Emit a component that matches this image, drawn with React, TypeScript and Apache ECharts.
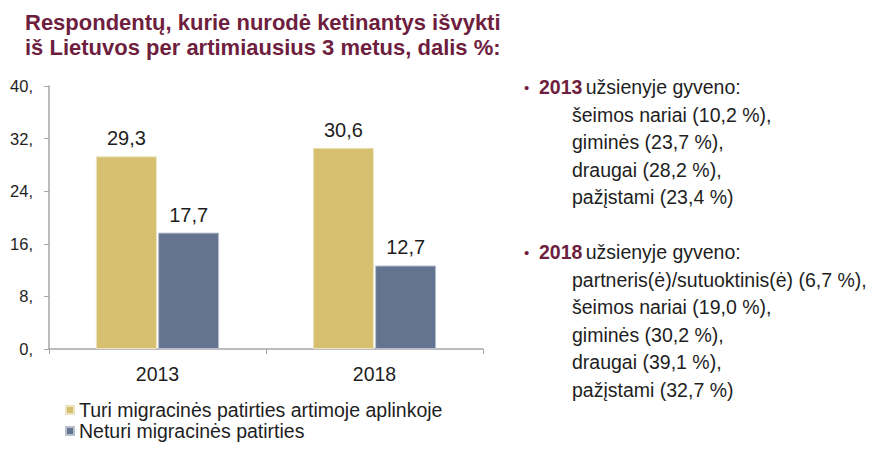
import React, { useEffect, useRef } from "react";
import * as echarts from "echarts";

const categories = ["2013", "2018"];
const seriesNames = ["Turi migracinės patirties artimoje aplinkoje", "Neturi migracinės patirties"];
const withExperience = [29.3, 30.6];
const withoutExperience = [17.7, 12.7];
const titleLines = ["Respondentų, kurie nurodė ketinantys išvykti", "iš Lietuvos per artimiausius 3 metus, dalis %:"];
const notes2013 = ["šeimos nariai (10,2 %),", "giminės (23,7 %),", "draugai (28,2 %),", "pažįstami (23,4 %)"];
const notes2018 = ["partneris(ė)/sutuoktinis(ė) (6,7 %),", "šeimos nariai (19,0 %),", "giminės (30,2 %),", "draugai (39,1 %),", "pažįstami (32,7 %)"];

const FONT = "'Liberation Sans', Arial, sans-serif";
const MAROON = "#6E1E3E";
const TEXT = "#1e1e1e";

export default function App() {
  const ref = useRef<HTMLDivElement>(null);
  useEffect(() => {
    if (!ref.current) return;
    const chart = echarts.init(ref.current, null, { renderer: "svg" });
    const graphics: any[] = [];
    titleLines.forEach((t, i) => {
      graphics.push({
        type: "text", left: 25, top: 11 + i * 25,
        style: { text: t, font: `bold 22px ${FONT}`, fill: MAROON },
      });
    });
    const FS = 19.5;
    const block = (year: string, lines: string[], y0: number) => {
      graphics.push({
        type: "text", left: 524, top: y0 - 8,
        style: { text: "•", font: `15px ${FONT}`, fill: MAROON },
      });
      graphics.push({
        type: "text", left: 539, top: y0 - 11,
        style: {
          text: `{y|${year}} {n|užsienyje gyveno:}`,
          rich: {
            y: { font: `bold ${FS}px ${FONT}`, fill: MAROON },
            n: { font: `${FS}px ${FONT}`, fill: TEXT },
          },
        },
      });
      lines.forEach((l, i) => {
        graphics.push({
          type: "text", left: 572, top: y0 - 11 + (i + 1) * 27.6,
          style: { text: l, font: `${FS}px ${FONT}`, fill: TEXT },
        });
      });
    };
    block("2013", notes2013, 88);
    block("2018", notes2018, 253);

    const legendBase = {
      orient: "vertical", left: 65, icon: "rect", padding: 0,
      itemWidth: 8, itemHeight: 8,
      textStyle: { fontSize: 19.5, color: TEXT, fontFamily: FONT },
    };
    const labelCfg = {
      show: true, position: "top", distance: 8, fontSize: 20, color: TEXT, fontFamily: FONT,
      formatter: (p: any) => String(p.value).replace(".", ","),
    };

    chart.setOption({
      animation: false,
      textStyle: { fontFamily: FONT },
      grid: { left: 49, top: 86, width: 434, height: 263, containLabel: false },
      legend: [
        { ...legendBase, top: 400, data: [seriesNames[0]] },
        { ...legendBase, top: 421, data: [seriesNames[1]] },
      ],
      xAxis: {
        type: "category", data: categories,
        axisLine: { lineStyle: { color: "#a6a6a6", width: 1.5 } },
        axisTick: { show: true, length: 5, lineStyle: { color: "#a6a6a6" } },
        axisLabel: { fontSize: 19.5, color: TEXT, margin: 15, fontFamily: FONT },
      },
      yAxis: {
        type: "value", min: 0, max: 40, interval: 8,
        splitLine: { show: false },
        axisLine: { show: true, lineStyle: { color: "#a6a6a6", width: 1.5 } },
        axisTick: { show: true, length: 5, lineStyle: { color: "#a6a6a6" } },
        axisLabel: { fontSize: 16.5, color: TEXT, margin: 16, formatter: (v: number) => `${v},`, fontFamily: FONT },
      },
      series: [
        {
          name: seriesNames[0], type: "bar", data: withExperience,
          barWidth: 61, barGap: "2%",
          itemStyle: { color: "#D6BF6E", borderColor: "#ECE3C0", borderWidth: 1 },
          label: labelCfg,
        },
        {
          name: seriesNames[1], type: "bar", data: withoutExperience,
          barWidth: 61,
          itemStyle: { color: "#64738F", borderColor: "#B8C0CE", borderWidth: 1 },
          label: labelCfg,
        },
      ],
      graphic: graphics,
    });
    return () => chart.dispose();
  }, []);
  return <div ref={ref} style={{ width: 875, height: 450, margin: -8 }} />;
}
